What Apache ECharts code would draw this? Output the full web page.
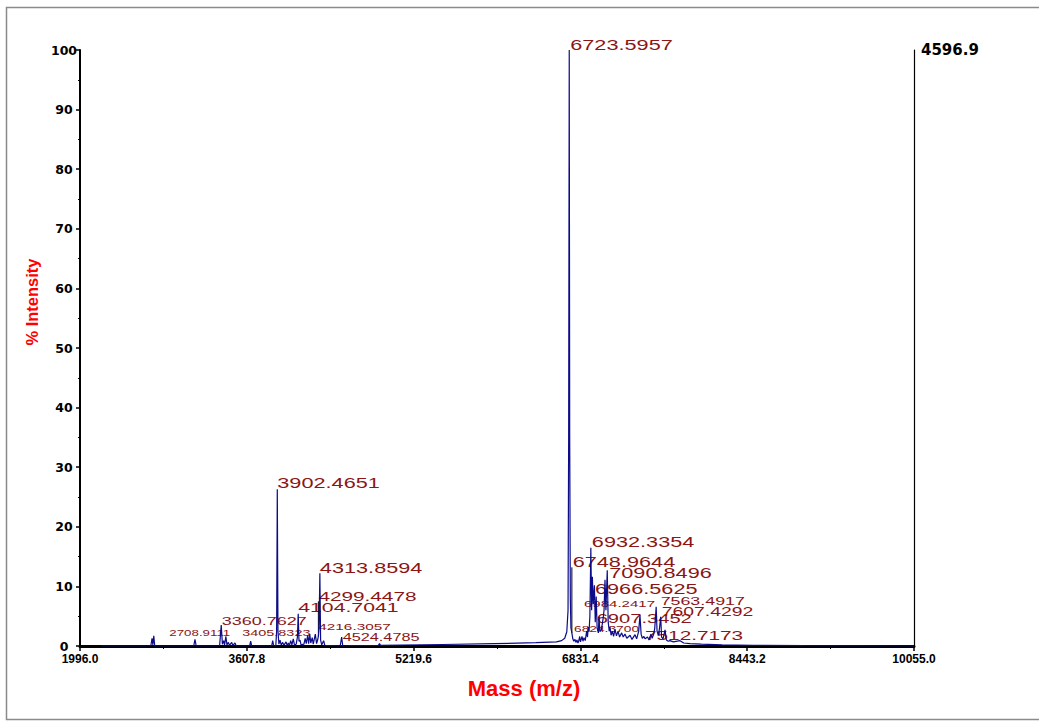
<!DOCTYPE html>
<html>
<head>
<meta charset="utf-8">
<title>Mass spectrum</title>
<script src="https://cdn.jsdelivr.net/npm/echarts@6/dist/echarts.min.js"></script>
<style>
  html, body { margin: 0; padding: 0; background: #ffffff; }
  #chart { width: 1039px; height: 723px; }
</style>
</head>
<body>
<div id="chart"></div>
<script>
// Axis ranges and tick labels
const massRange = [1996.0, 10055.0];
const massTicks = [1996.0, 3607.8, 5219.6, 6831.4, 8443.2, 10055.0];
const intensityTicks = [0, 10, 20, 30, 40, 50, 60, 70, 80, 90, 100];
const basePeakCounts = 4596.9;

// Profile spectrum: [m/z, % intensity]
const spectrum = [
  [2200, 0], [2680, 0], [2692, 1.3], [2700, 0.2], [2708.9111, 1.7], [2718, 0],
  [3095, 0], [3107, 1.1], [3119, 0],
  [3345, 0], [3360.7627, 3.5], [3372, 0.3], [3384, 0.9], [3393, 0.2], [3405.8323, 1.6], [3416, 0.2],
  [3430, 0.6], [3440, 0.1], [3462, 0.6], [3473, 0.1], [3494, 0.5], [3505, 0],
  [3635, 0], [3645, 0.8], [3655, 0],
  [3848, 0], [3858, 0.9], [3868, 0],
  [3888, 0], [3896, 2.5], [3902.4651, 26.3], [3909, 2.5], [3918, 0.3],
  [3929, 1.0], [3940, 0.2], [3955, 0.6], [3966, 0.1], [3987, 0.7], [3998, 0.1], [4009, 0.5], [4020, 0.1],
  [4032, 0.9], [4043, 0.2], [4057, 1.2], [4068, 0.2], [4085, 0.3],
  [4097, 1.5], [4104.7041, 5.4], [4112, 0.8], [4122, 1.0], [4132, 0.2],
  [4160, 0.3], [4172, 1.3], [4182, 0.4], [4196, 1.8], [4205, 0.4], [4216.3057, 2.0], [4226, 0.5],
  [4240, 1.4], [4250, 0.3], [4270, 2.0], [4282, 0.4], [4292, 1.0], [4299.4478, 1.6], [4306, 3.0],
  [4313.8594, 12.2], [4321, 1.0], [4332, 0.2], [4350, 0.9], [4362, 0.1],
  [4510, 0], [4524.4785, 1.5], [4535, 0],
  [4600, 0.05], [4880, 0.1], [4890, 0.4], [4900, 0.1], [5500, 0.25], [6000, 0.4], [6400, 0.55],
  [6600, 0.7], [6650, 0.9], [6680, 1.3], [6700, 2.4], [6712, 6], [6718, 35],
  [6723.5957, 100], [6728, 35], [6734, 8], [6740, 3], [6748.9644, 2.2], [6758, 1.2],
  [6768, 0.8], [6779, 1.1], [6788, 0.6], [6798, 1.0], [6808, 0.5],
  [6818, 1.0], [6824.3700, 1.6], [6832, 0.7], [6847, 1.6], [6856, 0.8], [6866, 1.4], [6878, 0.9],
  [6892, 2.5], [6900, 1.5], [6907.3452, 3.2], [6915, 2.4], [6923, 5.0], [6932.3354, 16.5],
  [6940, 6.0], [6947, 11.6], [6955, 7.0], [6966.5625, 10.2], [6975, 4.0], [6984.2417, 8.3],
  [6993, 3.0], [7005, 2.2], [7011, 4.9], [7020, 2.4], [7035, 2.8], [7050, 4.5], [7060, 6.0],
  [7069, 11.1], [7078, 6.0], [7090.8496, 12.7], [7100, 4.0], [7110, 2.5], [7117, 3.2], [7128, 1.8],
  [7140, 2.5], [7152, 1.6], [7166, 2.8], [7180, 1.7], [7195, 2.5], [7210, 1.5], [7230, 2.2],
  [7245, 1.5], [7262, 2.0], [7280, 1.3], [7311, 1.8], [7330, 1.1], [7359, 1.9], [7375, 1.2],
  [7395, 2.5], [7407, 5.2], [7418, 2.0], [7430, 1.3], [7445, 1.6], [7456, 1.2], [7480, 1.5],
  [7495, 1.0], [7512.7173, 2.0], [7525, 1.3], [7540, 2.0], [7550, 3.0], [7563.4917, 6.6],
  [7572, 2.5], [7585, 1.8], [7596, 3.0], [7607.4292, 4.9], [7616, 1.5], [7630, 1.2], [7649, 2.7],
  [7662, 1.0], [7680, 0.8], [7697, 0.9], [7730, 0.7], [7794, 0.9], [7830, 0.5], [7890, 0.4],
  [8000, 0.3], [8200, 0.2], [8500, 0.1], [9000, 0.05], [10055, 0]
];

// Annotated peak masses and their apex intensities
const peakMasses = [
  2708.9111, 3360.7627, 3405.8323, 3902.4651, 4104.7041, 4216.3057, 4299.4478, 4313.8594,
  4524.4785, 6723.5957, 6748.9644, 6824.3700, 6907.3452, 6932.3354, 6966.5625, 6984.2417,
  7090.8496, 7512.7173, 7563.4917, 7607.4292
];
const peakHeights = [
  1.7, 3.5, 1.6, 26.3, 5.4, 2.0, 1.6, 12.2,
  1.5, 100, 2.2, 1.6, 3.2, 16.5, 10.2, 8.3,
  12.7, 2.0, 6.6, 4.9
];

// Label placement: height level (% units), horizontal shift (px), font size (px)
const labelLevel = [
  2.23, 4.24, 2.23, 27.35, 6.49, 3.24, 8.39, 13.14,
  1.39, 100.9, 14.14, 2.97, 4.53, 17.5, 9.56, 7.0,
  12.2, 1.85, 7.55, 5.75
];
const labelShift = [
  15.5, 0.5, 16.4, 0, 0, 8.5, 0, 0,
  1, 1, 0.8, -5.7, 8.4, 1, 0.6, -12.2,
  2, -5.9, 4.5, 1
];
const labelSize = [
  8.6, 11.6, 9.3, 14, 13.7, 9.9, 13.4, 14,
  10.5, 14, 14, 8.9, 13, 14, 14, 9.7,
  14, 13.4, 11.5, 12.5
];

const labelColor = '#8c1515';
const traceColor = '#0c0c8a';
const stretch = 1.55;

const minorMassTicks = [];
for (let i = 0; i < massTicks.length - 1; i++) {
  minorMassTicks.push((massTicks[i] + massTicks[i + 1]) / 2);
}

const chart = echarts.init(document.getElementById('chart'), null, { renderer: 'svg' });

const labelData = peakMasses.map((m, i) => [m, labelLevel[i], peakHeights[i], i]);
// Leaders join a raised label to its lower peak
const leaderIdx = [6, 10];

chart.setOption({
  backgroundColor: '#ffffff',
  animation: false,
  graphic: [{
    type: 'rect',
    shape: { x: 6.5, y: 7.5, width: 1040, height: 712 },
    style: { fill: 'none', stroke: '#8a8a8a', lineWidth: 1.5 },
    silent: true
  }],
  grid: { left: 80, right: 125, top: 50, bottom: 77, containLabel: false },
  xAxis: [{
    type: 'value',
    min: massRange[0],
    max: massRange[1],
    name: 'Mass (m/z)',
    nameLocation: 'middle',
    nameGap: 31,
    nameTextStyle: {
      color: '#ff0000', fontSize: 22, fontWeight: 'bold',
      fontFamily: '"Liberation Sans", Arial, sans-serif',
      padding: [0, 0, 0, 54]
    },
    axisLine: { show: true, onZero: false, lineStyle: { color: '#000', width: 3 } },
    axisTick: { show: true, length: 5, customValues: massTicks, lineStyle: { color: '#000', width: 1.5 } },
    axisLabel: {
      customValues: massTicks,
      formatter: v => v.toFixed(1),
      color: '#000', fontSize: 12, fontWeight: 'bold',
      fontFamily: '"Liberation Sans", Arial, sans-serif',
      lineHeight: 12,
      margin: 7
    },
    splitLine: { show: false }
  }, {
    type: 'value',
    min: massRange[0],
    max: massRange[1],
    position: 'bottom',
    axisLine: { show: false },
    axisTick: { show: true, length: 3, customValues: minorMassTicks, lineStyle: { color: '#000', width: 1 } },
    axisLabel: { show: false },
    splitLine: { show: false }
  }],
  yAxis: [{
    type: 'value',
    min: 0,
    max: 100,
    interval: 10,
    name: '% Intensity',
    nameLocation: 'middle',
    nameGap: 40,
    nameTextStyle: {
      color: '#ff0000', fontSize: 16.5, fontWeight: 'bold',
      fontFamily: '"Liberation Sans", Arial, sans-serif',
      padding: [0, 0, 0, 92]
    },
    axisLine: { show: true, onZero: false, lineStyle: { color: '#000', width: 2 } },
    axisTick: { show: true, length: 4, lineStyle: { color: '#000', width: 1.5 } },
    minorTick: { show: true, splitNumber: 2, length: 2, lineStyle: { color: '#000', width: 1 } },
    axisLabel: {
      customValues: intensityTicks,
      color: '#000', fontSize: 12.5, fontWeight: 'bold',
      fontFamily: '"DejaVu Sans", sans-serif',
      lineHeight: 9,
      padding: [0, 0, 3, 0],
      align: 'center', margin: 16
    },
    splitLine: { show: false },
    minorSplitLine: { show: false }
  }, {
    type: 'value',
    min: 0,
    max: basePeakCounts,
    position: 'right',
    axisLine: { show: true, onZero: false, lineStyle: { color: '#000', width: 1.2 } },
    axisTick: { show: false },
    axisLabel: {
      customValues: [basePeakCounts],
      formatter: v => v.toFixed(1),
      color: '#000', fontSize: 15, fontWeight: 'bold',
      fontFamily: '"DejaVu Sans", sans-serif',
      margin: 7
    },
    splitLine: { show: false }
  }],
  series: [{
    // annotation text, stretched horizontally
    type: 'custom',
    coordinateSystem: 'cartesian2d',
    xAxisIndex: 0, yAxisIndex: 0,
    z: 2,
    silent: true,
    data: labelData,
    renderItem: (params, api) => {
      const i = api.value(3);
      const p = api.coord([api.value(0), api.value(1)]);
      const text = peakMasses[i].toFixed(4);
      const children = [{
        type: 'text',
        x: p[0] + labelShift[i],
        y: p[1],
        scaleX: stretch,
        style: {
          text: text,
          fill: labelColor,
          font: labelSize[i] + 'px "Liberation Sans", Arial, sans-serif',
          align: 'left', verticalAlign: 'middle',
          textAlign: 'left', textVerticalAlign: 'middle'
        }
      }];
      if (leaderIdx.indexOf(i) >= 0) {
        const bot = api.coord([api.value(0), api.value(2)]);
        children.push({
          type: 'line',
          shape: { x1: bot[0], y1: p[1] + labelSize[i] * 0.4, x2: bot[0], y2: bot[1] },
          style: { stroke: '#000', lineWidth: 1 }
        });
      }
      return { type: 'group', children: children };
    }
  }, {
    name: 'Spectrum',
    type: 'line',
    xAxisIndex: 0, yAxisIndex: 0,
    z: 3,
    data: spectrum,
    showSymbol: false,
    symbol: 'none',
    smooth: false,
    lineStyle: { color: traceColor, width: 1.2 },
    silent: true
  }]
});
</script>
</body>
</html>
